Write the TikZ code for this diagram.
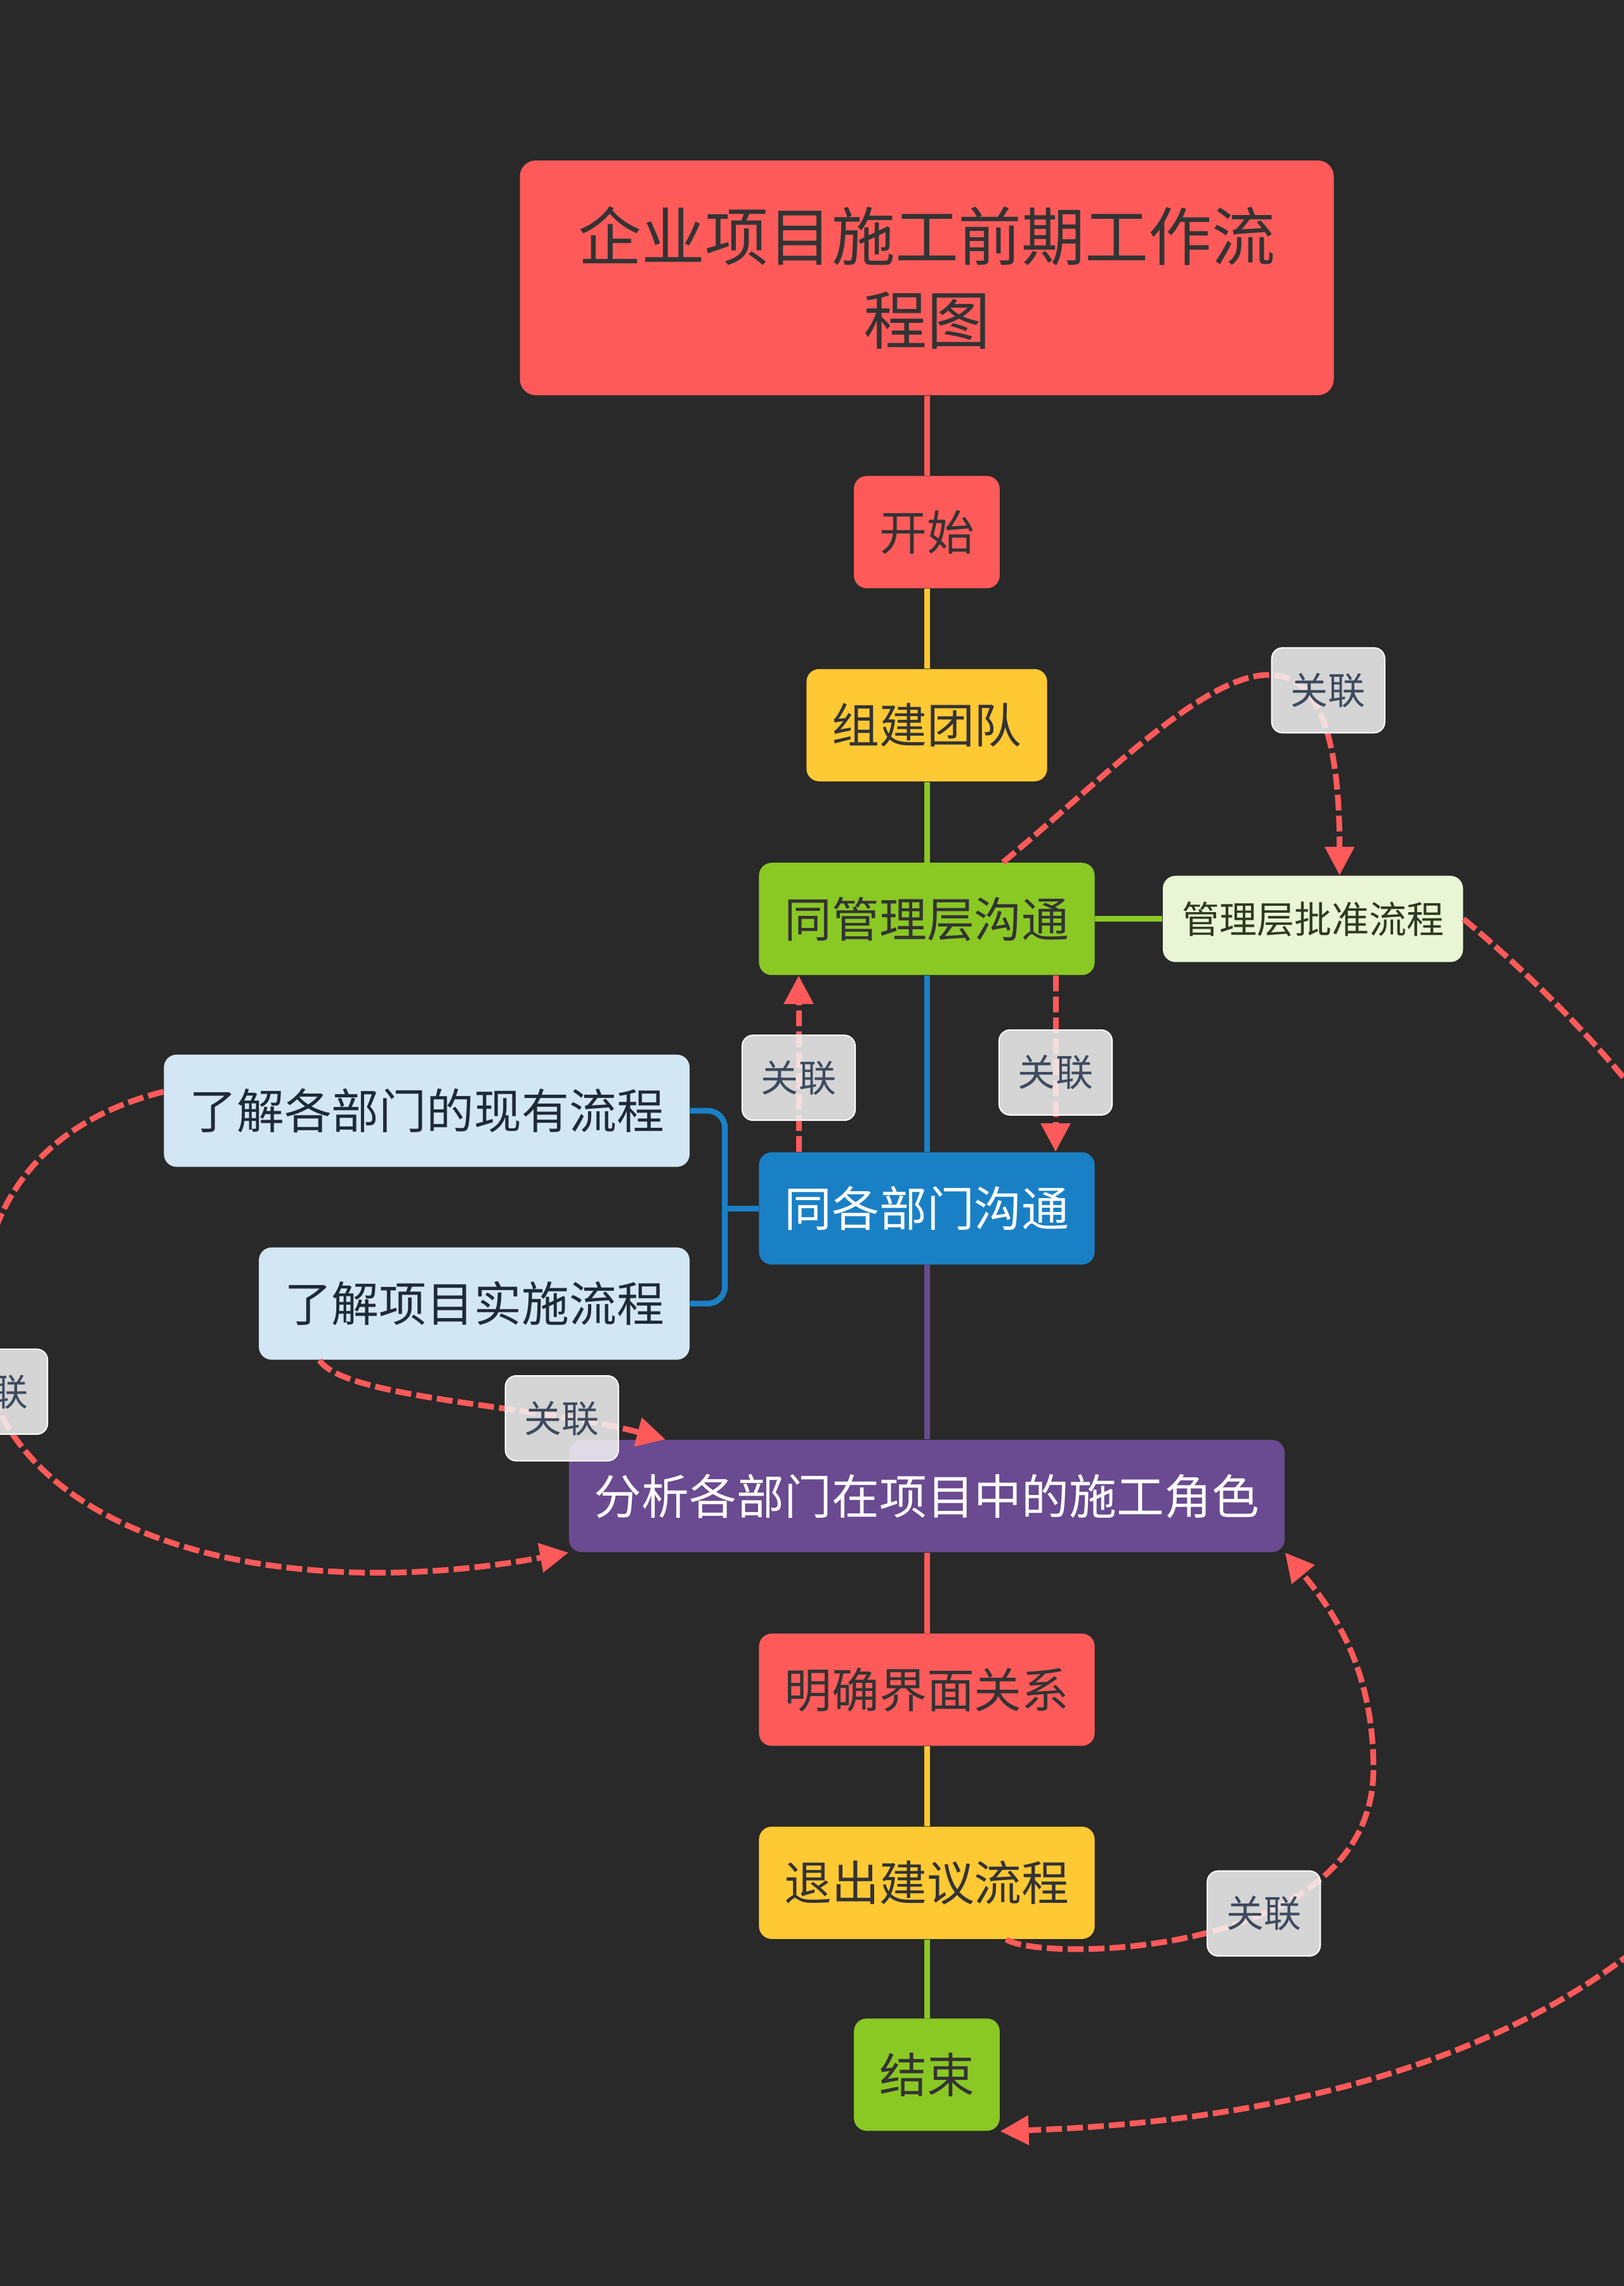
\documentclass[tikz,border=0pt]{standalone}
\usepackage{fontspec}
\newfontfamily\cjkfont{Noto Sans CJK SC}
\usepackage{xcolor}
\usetikzlibrary{arrows.meta, positioning}
\definecolor{canvas}{HTML}{292929}
\definecolor{topicred}{HTML}{FF5A5A}
\definecolor{topicyellow}{HTML}{FFC933}
\definecolor{topicgreen}{HTML}{8AC824}
\definecolor{topicblue}{HTML}{1A80C6}
\definecolor{topicpurple}{HTML}{6A4A90}
\definecolor{palegreen}{HTML}{E9F5D5}
\definecolor{paleblue}{HTML}{D2E6F3}
\definecolor{tagfill}{HTML}{F4F4F4}
\definecolor{tagtext}{HTML}{3D4A5E}
\definecolor{inkdark}{HTML}{333333}
\definecolor{inknavy}{HTML}{1E2A38}
\definecolor{inkolive}{HTML}{2D3A1F}
\tikzset{
  topic/.style={rectangle, rounded corners=0.2cm, align=center,
                minimum height=1.77cm, inner xsep=0.4cm, inner ysep=0pt,
                font=\cjkfont\fontsize{21.3}{25}\selectfont, text=inkdark},
  titlebox/.style={topic, fill=topicred, rounded corners=0.25cm,
                   minimum width=12.83cm, minimum height=3.70cm,
                   font=\cjkfont\fontsize{28.45}{37.3}\selectfont},
  redbox/.style={topic, fill=topicred},
  yellowbox/.style={topic, fill=topicyellow},
  greenbox/.style={topic, fill=topicgreen},
  bluebox/.style={topic, fill=topicblue, text=white},
  purplebox/.style={topic, fill=topicpurple, text=white},
  subbox/.style={topic, fill=paleblue, text=inknavy},
  notebox/.style={rectangle, rounded corners=0.2cm, fill=palegreen,
                  minimum height=1.36cm, inner xsep=0.3cm, inner ysep=0pt,
                  font=\cjkfont\fontsize{16.8}{20}\selectfont, text=inkolive},
  linklbl/.style={rectangle, rounded corners=0.17cm, draw=white, solid,
                  line width=0.02cm, fill=tagfill, fill opacity=0.85,
                  text opacity=1, minimum height=1.34cm, inner xsep=0.3cm,
                  inner ysep=0pt, font=\cjkfont\fontsize{16.8}{20}\selectfont,
                  text=tagtext},
  trunk/.style={line width=0.09cm},
  link/.style={draw=topicred, line width=0.09cm,
               dash pattern=on 0.25cm off 0.08cm,
               -{Triangle[length=0.45cm, width=0.45cm]}}
}

\begin{document}
\begin{tikzpicture}[node distance=1.26cm]
  \useasboundingbox (0,0) rectangle (25.6,-36.04);
  \fill[canvas] (0,0) rectangle (25.6,-36.04);

  %% -- Main chain --
  \node[titlebox] (title) at (14.61,-4.38) {企业项目施工前期工作流\\程图};
  \node[redbox, below=of title]           (start)  {开始};
  \node[yellowbox, below=of start]        (team)   {组建团队};
  \node[greenbox, below=1.27cm of team]   (mgmt)   {同管理层沟通};
  \node[bluebox, below=2.78cm of mgmt]    (dept)   {同各部门沟通};
  \node[purplebox, below=2.75cm of dept]  (role)   {分析各部门在项目中的施工角色};
  \node[redbox, below=1.27cm of role]     (iface)  {明确界面关系};
  \node[yellowbox, below=of iface]        (exit)   {退出建议流程};
  \node[greenbox, below=1.24cm of exit]   (finish) {结束};

  %% -- Side topics --
  \node[notebox, right=1.06cm of mgmt] (approve) {管理层批准流程};
  \node[subbox, left=1.08cm of dept, yshift=1.54cm]  (know) {了解各部门的现有流程};
  \node[subbox, left=1.08cm of dept, yshift=-1.50cm] (impl) {了解项目实施流程};

  %% -- Tree lines --
  \draw[trunk, topicred]    (title) -- (start);
  \draw[trunk, topicyellow] (start) -- (team);
  \draw[trunk, topicgreen]  (team)  -- (mgmt);
  \draw[trunk, topicblue]   (mgmt)  -- (dept);
  \draw[trunk, topicpurple] (dept)  -- (role);
  \draw[trunk, topicred]    (role)  -- (iface);
  \draw[trunk, topicyellow] (iface) -- (exit);
  \draw[trunk, topicgreen]  (exit)  -- (finish);
  \draw[trunk, topicgreen]  (mgmt)  -- (approve);
  \draw[trunk, topicblue]   (dept.west) -- ++(-0.53,0);
  \draw[trunk, topicblue, rounded corners=0.27cm]
    (know.east) -| ([xshift=-0.53cm]dept.west) |- (impl.east);

  %% -- Relations --
  \draw[link] ([xshift=1.2cm]mgmt.north)
    .. controls +(2.49,2.06) and +(0,5.56) .. ([xshift=0.42cm]approve.north)
    node[linklbl, pos=0.75, xshift=0.3cm, yshift=0.25cm] (r1) {关联};
  \draw[link] ([xshift=-2.02cm]dept.north) --
    node[linklbl, pos=0.42] (r2) {关联} ([xshift=-2.02cm]mgmt.south);
  \draw[link] ([xshift=2.03cm]mgmt.south) --
    node[linklbl, pos=0.55] (r3) {关联} ([xshift=2.03cm]dept.north);
  \draw[link] ([xshift=-2.44cm]impl.south)
    .. controls +(0.39,-0.61) and +(-1.98,0.53) .. ([xshift=-4.12cm]role.north)
    node[linklbl, pos=0.75] (r4) {关联};
  \draw[link] ([yshift=0.3cm]know.west)
    .. controls +(-1.8,-0.45) and +(0,2.0) .. ++(-2.9,-3.66)
    .. controls +(0,-3.2) and +(-4.92,-0.9) .. (role.south west)
    node[linklbl, pos=0.12] (r5) {关联};
  \draw[link] ([xshift=1.25cm]exit.south)
    .. controls +(0.54,-0.36) and +(0,-3.0) .. ++(5.79,2.69)
    node[linklbl, pos=0.62] (r6) {关联}
    .. controls +(0,1.5) and +(0.83,-1.0) .. (role.south east);
  \draw[link] (approve.east)
    .. controls +(-40:12) and +(2:15) .. (finish.south east);
\end{tikzpicture}
\end{document}
